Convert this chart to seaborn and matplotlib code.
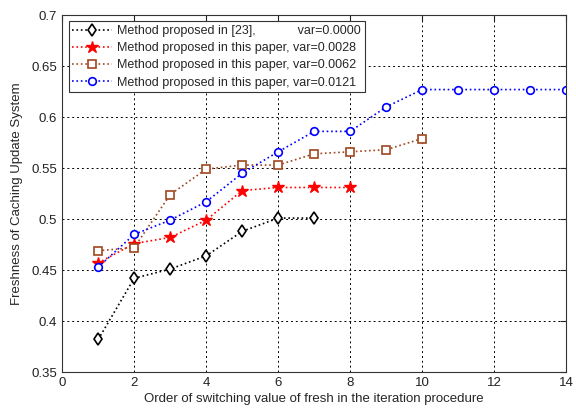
import matplotlib
matplotlib.use("Agg")
import matplotlib.pyplot as plt
import seaborn as sns
import pandas as pd

x_black = [1, 2, 3, 4, 5, 6, 7]
y_black = [0.382, 0.442, 0.451, 0.464, 0.488, 0.501, 0.501]
x_red = [1, 2, 3, 4, 5, 6, 7, 8]
y_red = [0.457, 0.476, 0.482, 0.499, 0.528, 0.531, 0.531, 0.531]
x_brown = [1, 2, 3, 4, 5, 6, 7, 8, 9, 10]
y_brown = [0.469, 0.472, 0.524, 0.549, 0.553, 0.553, 0.564, 0.566, 0.568, 0.579]
x_blue = [1, 2, 3, 4, 5, 6, 7, 8, 9, 10, 11, 12, 13, 14]
y_blue = [0.453, 0.485, 0.499, 0.517, 0.545, 0.566, 0.586, 0.586, 0.610, 0.627, 0.627, 0.627, 0.627, 0.627]

labels = ["Method proposed in [23],            var=0.0000",
          "Method proposed in this paper, var=0.0028",
          "Method proposed in this paper, var=0.0062",
          "Method proposed in this paper, var=0.0121"]
xticks = [0, 2, 4, 6, 8, 10, 12, 14]
yticks = [0.35, 0.4, 0.45, 0.5, 0.55, 0.6, 0.65, 0.7]
xlabel = "Order of switching value of fresh in the iteration procedure"
ylabel = "Freshness of Caching Update System"

sns.set_style("white")
plt.rcParams['font.family'] = ['Liberation Sans', 'DejaVu Sans']

fig = plt.figure(figsize=(5.76, 4.08), dpi=100)
ax = fig.add_axes([0.108, 0.088, 0.875, 0.875])

series = [
    (x_black, y_black, "black", "d", dict(markerfacecolor="white", markeredgecolor="black", markersize=6, markeredgewidth=1.2)),
    (x_red, y_red, "red", "*", dict(markerfacecolor="red", markeredgecolor="red", markersize=9, markeredgewidth=1)),
    (x_brown, y_brown, "#A0461E", "s", dict(markerfacecolor="white", markeredgecolor="#A0461E", markersize=6, markeredgewidth=1.2)),
    (x_blue, y_blue, "blue", "o", dict(markerfacecolor="white", markeredgecolor="blue", markersize=5.5, markeredgewidth=1.2)),
]
for (xs, ys, c, m, kw), lab in zip(series, labels):
    df = pd.DataFrame({"x": xs, "y": ys})
    sns.lineplot(data=df, x="x", y="y", ax=ax, color=c, marker=m, linestyle=":",
                 linewidth=1.2, label=lab, **kw)

ax.set_xlim(0, 14)
ax.set_ylim(0.35, 0.7)
ax.set_xticks(xticks)
ax.set_xticklabels([str(t) for t in xticks])
ax.set_yticks(yticks)
ax.set_yticklabels([f"{t:g}" for t in yticks])
ax.grid(True, linestyle=(0, (2, 3)), color="black", linewidth=0.7)
ax.tick_params(direction="in", top=True, right=True, length=4, labelsize=9.5, colors="#222222")
for s in ax.spines.values():
    s.set_color("#333333")
    s.set_linewidth(0.8)
ax.set_xlabel(xlabel, fontsize=9.5, labelpad=3)
ax.set_ylabel(ylabel, fontsize=9.5, labelpad=6)

leg = ax.legend(loc="upper left", bbox_to_anchor=(0.008, 0.99), fontsize=9, frameon=True,
                fancybox=False, edgecolor="#333333", framealpha=1, borderpad=0.3,
                labelspacing=0.42, handlelength=3.2, handletextpad=0.4, borderaxespad=0.2)
leg.get_frame().set_linewidth(0.8)

fig.savefig("out.png", dpi=100)
